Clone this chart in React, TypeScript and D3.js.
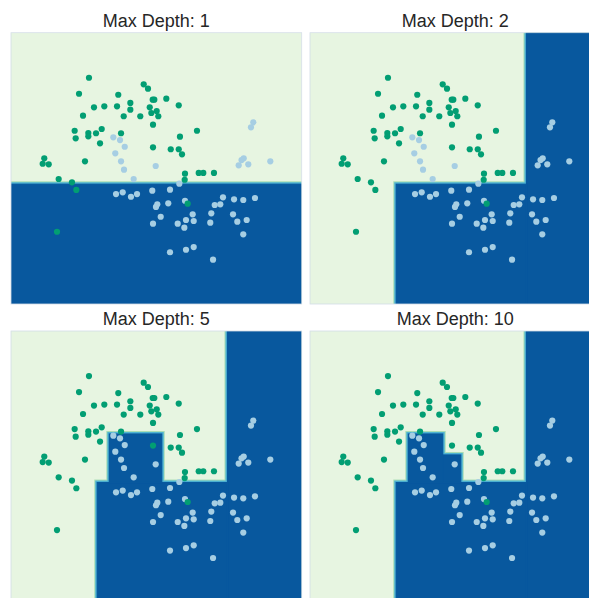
import React from 'react';
import * as d3 from 'd3';

// two classes of points, shared by all four panels
const greenPoints: [number, number][] = [
  [-0.427, 1.252], [-0.564, 1.075], [-0.024, 1.064], [0.326, 1.179], [0.385, 1.131],
  [0.450, 1.009], [0.472, 1.009], [0.637, 1.020], [-0.358, 0.925], [-0.216, 0.936],
  [-0.041, 0.936], [0.142, 0.973], [0.142, 0.899], [0.409, 0.925], [0.808, 0.947],
  [0.505, 0.884], [0.431, 0.862], [0.527, 0.826], [-0.509, 0.832], [0.051, 0.826],
  [0.279, 0.826], [0.454, 0.733], [-0.624, 0.666], [-0.610, 0.582], [-0.436, 0.641],
  [-0.436, 0.604], [-0.330, 0.638], [-0.252, 0.685], [-0.275, 0.527], [0.014, 0.638],
  [1.059, 0.666], [0.825, 0.600], [0.454, 0.483], [0.698, 0.461], [0.808, 0.461],
  [0.853, 0.405], [-1.042, 0.361], [-1.064, 0.301], [-0.981, 0.295], [-0.482, 0.328],
  [0.894, 0.191], [1.083, 0.199], [1.146, 0.199], [1.293, 0.199], [0.890, 0.124],
  [-0.844, 0.132], [-0.661, 0.096], [-0.601, 0.011], [0.931, -0.141], [-0.867, -0.451],
];

const bluePoints: [number, number][] = [
  [1.834, 0.759], [1.802, 0.704], [-0.092, 0.593], [0.000, 0.563], [0.065, 0.489],
  [-0.065, 0.416], [0.014, 0.328], [0.055, 0.235], [0.491, 0.276], [0.188, 0.132],
  [0.816, 0.080], [1.672, 0.342], [1.702, 0.361], [1.633, 0.284], [1.765, 0.295],
  [2.068, 0.328], [-0.055, -0.034], [0.037, -0.015], [0.151, -0.064], [0.234, -0.034],
  [0.444, 0.003], [0.688, 0.014], [0.894, -0.108], [0.513, -0.148], [0.495, -0.177],
  [0.664, -0.137], [0.560, -0.285], [0.454, -0.362], [1.000, -0.258], [0.908, -0.321],
  [1.014, -0.332], [0.794, -0.362], [0.885, -0.406], [1.256, -0.247], [1.242, -0.351],
  [1.303, -0.155], [1.380, -0.148], [1.417, -0.070], [1.569, -0.092], [1.696, -0.100],
  [1.857, -0.078], [1.555, -0.258], [1.614, -0.340], [1.743, -0.321], [1.696, -0.479],
  [0.688, -0.678], [0.908, -0.650], [1.014, -0.620], [1.280, -0.760],
];

// leaves predicted as the blue class: [x0, x1, y0, y1]
const darkDepth1 = [[-1.5, 2.5, -1.25, 0.074]];
const darkDepth2 = [[1.479, 2.5, -1.25, 1.75], [-0.313, 1.479, -1.25, 0.074]];
const darkDepth5 = [...darkDepth2, [-0.147, 0.574, 0.074, 0.611]];
const darkDepth10 = [...darkDepth2, [-0.147, 0.326, 0.074, 0.611], [0.326, 0.574, 0.074, 0.379]];

const depths = [1, 2, 5, 10];
const darkLeaves = [darkDepth1, darkDepth2, darkDepth5, darkDepth10];

const X_DOMAIN = [-1.5, 2.5];
const Y_DOMAIN = [-1.25, 1.75];

const PW = 290.7;
const PH = 271.3;
const ORIGINS = [[11, 32.7], [310, 32.7], [11, 331], [310, 331]];

const LIGHT = '#e7f5e1';
const DARK = '#08589e';
const GREEN = '#029e73';
const BLUE = '#a6cee3';

function Panel({ idx }: { idx: number }) {
  const x = d3.scaleLinear().domain(X_DOMAIN).range([0, PW]);
  const y = d3.scaleLinear().domain(Y_DOMAIN).range([PH, 0]);
  const [ox, oy] = ORIGINS[idx];
  const leaves = darkLeaves[idx];
  const rect = (l: number[]) => ({
    x: x(l[0]), y: y(l[3]), width: x(l[1]) - x(l[0]), height: y(l[2]) - y(l[3]),
  });
  const clipId = `clip-${idx}`;
  return (
    <g transform={`translate(${ox},${oy})`}>
      <defs>
        <clipPath id={clipId}>
          <rect x={0} y={0} width={PW} height={PH} />
        </clipPath>
      </defs>
      <text x={PW / 2} y={-6} textAnchor="middle" fontSize={18}
        fill="#262626" fontFamily="'Liberation Sans', Arial, sans-serif">
        Max Depth: {depths[idx]}
      </text>
      <g clipPath={`url(#${clipId})`}>
        <rect x={0} y={0} width={PW} height={PH} fill={LIGHT} />
        {leaves.map((l, i) => <rect key={`a${i}`} {...rect(l)} fill="none" stroke="#a8ddb5" strokeWidth={6} />)}
        {leaves.map((l, i) => <rect key={`b${i}`} {...rect(l)} fill="none" stroke="#4eb3d3" strokeWidth={4} />)}
        {leaves.map((l, i) => <rect key={`c${i}`} {...rect(l)} fill={DARK} stroke={DARK} strokeWidth={1.2} />)}
      </g>
      <rect x={0} y={0} width={PW} height={PH} fill="none" stroke="#d3dde6" strokeWidth={0.8} />
      {bluePoints.map((p, i) => <circle key={`lb${i}`} cx={x(p[0])} cy={y(p[1])} r={3.1} fill={BLUE} />)}
      {greenPoints.map((p, i) => <circle key={`g${i}`} cx={x(p[0])} cy={y(p[1])} r={3.1} fill={GREEN} />)}
    </g>
  );
}

export default function App() {
  return (
    <svg width={589} height={598} style={{ position: 'absolute', left: 0, top: 0, background: '#fff' }}>
      {depths.map((d, i) => <Panel key={d} idx={i} />)}
    </svg>
  );
}
